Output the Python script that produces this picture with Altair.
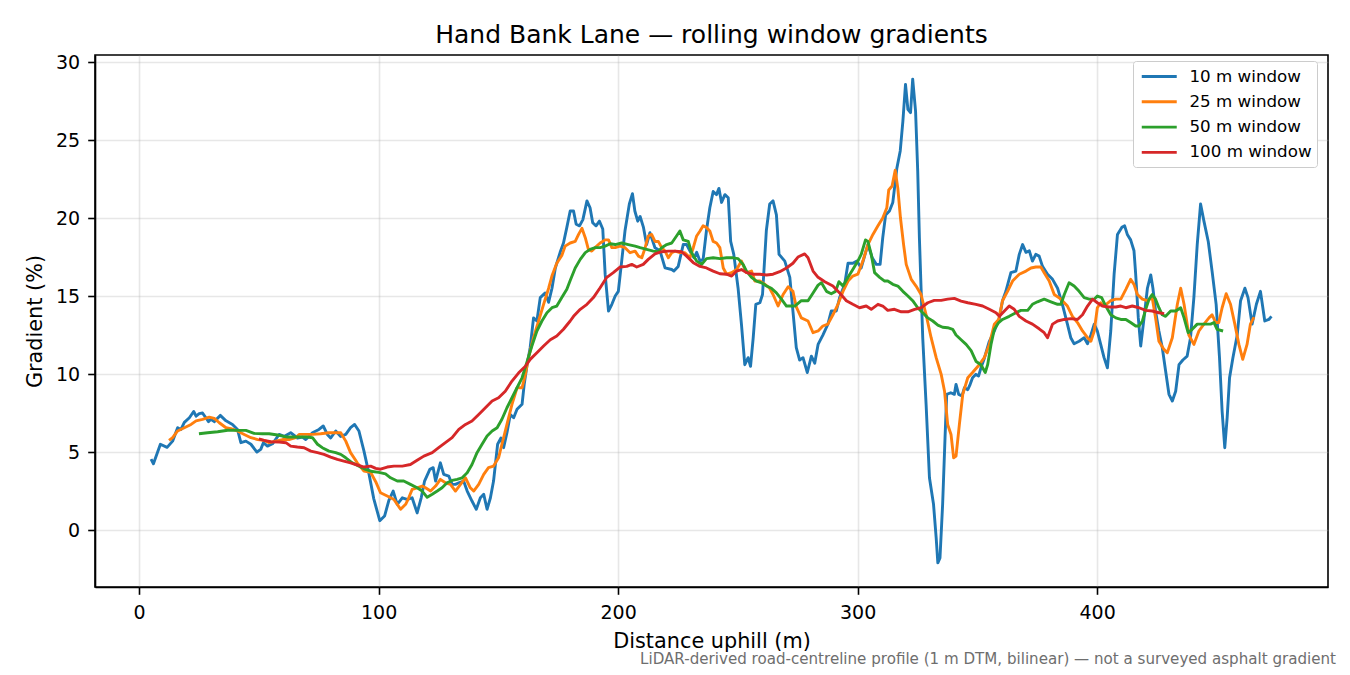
import altair as alt
import pandas as pd

SERIES = ["10 m window", "25 m window", "50 m window", "100 m window"]
COLORS = ["#1f77b4", "#ff7f0e", "#2ca02c", "#d62728"]

W10_X = [5, 6, 8.9, 11.7, 14, 16.1, 17.5, 18.9, 21, 22.8, 23.8, 25.1, 26.5, 27.9, 29, 30, 31.4, 33.9, 36.3, 39, 41.1, 42.5, 44.6, 46.7, 49.2, 50.8, 51.9, 53.6, 55.7, 58.5, 60.5, 63.3, 66.1, 68.2, 69.6, 72.4, 75.1, 76.9, 78.6, 80, 82.1, 84.2, 86.3, 88.3, 90, 91.8, 93.9, 96, 98, 100.5, 102.5, 104.3, 106.1, 107.8, 109.9, 111.9, 114, 116.1, 117.8, 119.2, 121.4, 122.8, 123.8, 125.8, 127.2, 129.3, 130.7, 132.1, 133.5, 135.5, 137, 139, 140.8, 142.5, 143.9, 145.3, 146.7, 148, 149.7, 151.1, 152.2, 153.6, 155, 156.4, 157.8, 159.9, 160.8, 162, 163.3, 164.7, 166.1, 167.5, 169.6, 171, 172.4, 173.8, 175.8, 177.2, 178.6, 180, 181.4, 182.5, 183.9, 185.3, 187, 188.3, 189.4, 190.8, 192.2, 193.6, 194.6, 196, 197.4, 198.8, 200.1, 201.5, 202.9, 204.7, 206, 207, 208.2, 209.2, 210.6, 211.9, 213.3, 215.4, 217.5, 219.6, 222.4, 223.3, 225.1, 227.2, 228.6, 230.3, 231.7, 232.8, 234.2, 235.5, 236.9, 238.3, 239.7, 241.1, 242.1, 243.2, 244.6, 246, 247, 248.3, 250.1, 251.5, 252.9, 254.3, 255.3, 256.4, 257.5, 259.2, 260.3, 261.9, 263.3, 264.7, 266.1, 267.2, 269.6, 271.7, 273, 274.4, 275.8, 277.2, 279, 280.7, 282.1, 283.5, 285.5, 287.6, 289, 291.1, 292.5, 294.6, 296, 298, 299.7, 301.5, 302.9, 304.3, 306.1, 307.8, 309.4, 310.5, 311.7, 313.3, 314.7, 316.4, 317.8, 318.9, 320, 321, 322.1, 323, 324.2, 325.1, 325.8, 326.5, 327.2, 328.6, 330, 331.7, 332.8, 333.5, 334.4, 335.5, 336.5, 337.2, 338.9, 340.4, 341.1, 342.2, 343.6, 344.6, 346, 347, 348, 349.4, 350.5, 351.5, 352.9, 355, 357.1, 359.2, 360.5, 361.9, 364, 366.1, 367.5, 368.9, 370.3, 371.7, 373, 374.4, 375.8, 377.2, 379.3, 381.4, 383.5, 385.5, 387.6, 389, 390.4, 392.5, 394.6, 396, 397.4, 398.8, 400.1, 401.5, 402.9, 404.3, 405.7, 407.1, 408.5, 410.3, 411.5, 412.6, 414, 415.4, 416.1, 417.2, 418.2, 419.6, 421, 422.4, 423.3, 424.4, 425.8, 427.2, 428.6, 430, 431.4, 432.8, 434.2, 435.8, 437.6, 439, 440.4, 441.8, 443.2, 444.6, 446.4, 448, 449.7, 451.1, 452.2, 453.3, 454.3, 455.3, 456.7, 458.5, 459.9, 461.7, 463, 464.7, 466.5, 468.2, 470, 471.7, 472.8]
W10_Y = [4.55, 4.25, 5.5, 5.3, 5.7, 6.56, 6.45, 6.9, 7.2, 7.6, 7.3, 7.46, 7.5, 7.2, 6.95, 7.1, 6.95, 7.35, 7.0, 6.77, 6.45, 5.6, 5.7, 5.5, 5.0, 5.17, 5.6, 5.38, 5.53, 6.13, 6.0, 6.24, 5.9, 5.96, 5.8, 6.24, 6.45, 6.67, 6.13, 5.9, 6.35, 6.0, 6.13, 6.56, 6.77, 6.35, 5.06, 3.6, 2.0, 0.6, 0.9, 1.9, 2.5, 1.65, 2.07, 1.96, 2.07, 1.1, 2.07, 3.14, 3.89, 4.0, 3.14, 4.31, 3.57, 3.46, 2.93, 2.93, 3.03, 3.14, 2.5, 1.86, 1.33, 2.07, 2.29, 1.33, 2.07, 3.14, 5.5, 5.9, 5.28, 6.24, 7.4, 7.2, 7.74, 8.06, 9.34, 10.6, 11.7, 13.6, 13.4, 14.9, 15.2, 14.6, 15.5, 16.8, 17.8, 18.4, 19.4, 20.45, 20.45, 19.6, 19.5, 19.9, 21.1, 20.66, 19.7, 19.5, 19.8, 19.3, 16.4, 14.04, 14.47, 15.0, 15.3, 17.24, 19.2, 20.9, 21.56, 20.45, 19.8, 20.1, 19.4, 18.3, 19.06, 18.1, 17.9, 16.8, 16.7, 16.6, 16.9, 18.3, 18.3, 17.8, 17.45, 17.8, 17.24, 17.35, 19.2, 20.66, 21.7, 21.5, 21.9, 21.0, 21.5, 21.3, 18.5, 17.67, 15.5, 13.2, 10.6, 11.05, 10.5, 12.3, 14.47, 14.57, 15.1, 19.2, 20.9, 21.1, 20.2, 17.67, 17.24, 16.2, 14.04, 11.7, 10.9, 11.05, 10.1, 11.15, 10.7, 11.9, 12.5, 13.2, 14.04, 14.04, 14.9, 15.75, 17.1, 17.1, 17.24, 16.8, 17.56, 18.3, 17.45, 17.03, 17.03, 18.74, 20.2, 20.45, 21.0, 23.2, 24.3, 26.2, 28.57, 26.97, 26.75, 28.9, 26.86, 23.0, 18.74, 15.5, 12.3, 8.06, 3.35, 1.65, -0.49, -2.1, -1.78, 1.65, 5.9, 8.7, 8.8, 8.7, 9.34, 8.7, 8.6, 9.12, 9.0, 9.34, 9.76, 9.98, 9.87, 10.4, 11.0, 12.1, 12.76, 13.6, 14.7, 15.3, 16.5, 16.6, 17.67, 18.3, 17.8, 17.9, 17.24, 17.67, 17.56, 16.9, 16.4, 16.07, 15.5, 14.47, 13.2, 12.33, 11.94, 12.1, 12.33, 11.94, 12.5, 13.2, 12.76, 11.9, 11.05, 10.4, 12.76, 16.4, 18.95, 19.4, 19.5, 18.95, 18.6, 17.9, 16.4, 13.6, 11.8, 13.6, 15.5, 16.35, 15.5, 14.04, 12.76, 11.7, 10.2, 8.7, 8.27, 8.9, 10.6, 10.9, 11.15, 12.33, 14.9, 18.3, 20.9, 19.8, 18.5, 16.6, 14.47, 11.05, 7.6, 5.28, 7.2, 9.76, 11.05, 12.5, 14.7, 15.5, 14.9, 13.2, 14.47, 15.3, 13.4, 13.5, 13.7]

W25_X = [12.5, 14, 16.1, 18.9, 21.7, 23.8, 26.5, 29.3, 31.4, 33.5, 36.3, 38.3, 41.1, 43.9, 46.7, 49.5, 52.2, 54.3, 57.1, 59.9, 62.6, 65.4, 66.8, 69.6, 72.4, 75.8, 79.3, 82.1, 84.2, 86.3, 88.3, 91.1, 93.9, 96.7, 98.8, 100.8, 103.6, 106.4, 109.2, 111.3, 112.6, 114, 116.1, 118.2, 119.6, 121.7, 123.8, 125.8, 127.9, 130, 132.1, 134.2, 136.3, 138.3, 139.7, 141.8, 143.9, 145.9, 148, 150.1, 151.5, 153.6, 155.7, 157.8, 159.9, 161.3, 162.6, 164.7, 166.8, 168.9, 171, 172.4, 174.4, 176.5, 177.9, 180, 182.1, 183.5, 184.9, 186.3, 187.6, 189, 190.4, 192.5, 194.6, 196, 197.4, 198.8, 200.8, 202.9, 205, 207.1, 208.5, 209.9, 211.3, 212.6, 214, 215.4, 216.8, 218.2, 219.6, 221, 222.4, 223.8, 225.8, 227.9, 230, 231.4, 232.8, 234.2, 235.5, 236.9, 238.3, 239.7, 241.1, 242.5, 243.9, 245.3, 247.4, 249.5, 251.5, 253.6, 255.7, 257.1, 259.2, 261.3, 263.3, 264.7, 266.8, 268.9, 271, 273, 274.4, 276.5, 279.3, 281.4, 283.5, 285.5, 287.6, 289.7, 291.8, 293.9, 296, 298, 300.1, 302.2, 304.3, 306.4, 308.5, 310.5, 312.2, 313, 314.4, 315.7, 316.8, 317.9, 319.2, 320.3, 322.4, 324.4, 326.5, 328.6, 330.7, 332.8, 334.9, 336.3, 337.6, 339, 340.1, 341.1, 342.5, 343.9, 346, 348, 350.8, 352.9, 355, 357.1, 358.9, 360.5, 362.6, 364.7, 367.5, 370.3, 372.4, 374.4, 376.5, 377.9, 380, 382.1, 384.9, 387.6, 389.7, 391.8, 393.9, 396, 397.4, 398.8, 400.1, 401.5, 402.9, 405.7, 407.8, 409.9, 412, 414, 415.4, 416.8, 418.9, 421, 423, 424.4, 425.8, 427.9, 429.3, 431.4, 433.5, 434.9, 436.3, 438.3, 440.4, 442.5, 444.6, 446.7, 448, 449.5, 450.8, 452.2, 453.9, 455.7, 457.5, 459.2, 460.8, 462.6, 464, 465.5]
W25_Y = [5.75, 5.92, 6.35, 6.56, 6.77, 7.0, 7.1, 7.24, 7.16, 6.88, 6.56, 6.5, 6.35, 6.13, 5.92, 5.8, 5.75, 5.6, 5.7, 5.8, 5.8, 5.92, 6.13, 6.13, 6.13, 6.17, 6.24, 6.24, 6.24, 5.7, 4.96, 4.31, 3.78, 3.7, 3.1, 2.39, 2.18, 1.96, 1.33, 1.65, 2.07, 2.6, 2.71, 2.82, 2.71, 2.5, 2.82, 3.25, 3.03, 2.93, 2.5, 2.93, 3.35, 2.71, 2.5, 2.93, 3.57, 4.0, 4.1, 4.63, 5.5, 6.77, 8.06, 9.12, 9.12, 9.98, 11.05, 12.33, 13.4, 14.47, 15.5, 16.3, 17.1, 17.6, 18.2, 18.4, 18.5, 18.95, 19.34, 18.74, 17.99, 17.88, 18.1, 18.4, 18.6, 18.6, 18.1, 18.1, 18.2, 18.1, 17.78, 17.88, 17.56, 17.45, 18.1, 18.85, 18.95, 18.5, 18.5, 18.1, 17.88, 17.45, 17.78, 17.88, 17.78, 17.78, 17.45, 18.1, 18.85, 19.17, 19.5, 19.4, 19.17, 18.5, 18.4, 18.1, 16.8, 16.4, 16.5, 16.7, 17.24, 16.5, 16.6, 15.96, 15.96, 15.75, 15.5, 15.1, 14.36, 15.1, 15.6, 15.3, 14.3, 13.6, 13.4, 12.65, 12.76, 13.08, 13.2, 13.8, 14.47, 15.3, 15.96, 16.28, 16.4, 17.24, 18.3, 18.95, 19.5, 20.0, 20.66, 21.8, 22.05, 23.06, 21.9, 20.0, 18.3, 17.03, 16.07, 15.64, 15.1, 13.8, 12.33, 11.05, 9.98, 8.9, 6.77, 6.13, 4.63, 4.74, 6.77, 8.7, 9.76, 10.1, 10.6, 11.05, 11.9, 13.2, 13.5, 14.7, 15.3, 15.96, 16.4, 16.6, 16.8, 16.86, 16.86, 16.5, 15.96, 15.1, 14.8, 14.36, 13.7, 13.3, 12.76, 12.33, 12.1, 12.76, 14.25, 14.57, 14.36, 14.7, 14.8, 14.8, 15.43, 16.07, 15.75, 15.1, 14.8, 14.7, 14.9, 13.6, 12.1, 11.58, 11.37, 12.33, 14.47, 15.5, 14.47, 12.5, 11.9, 12.76, 13.2, 13.6, 13.8, 13.3, 13.3, 14.25, 15.15, 14.47, 13.2, 11.9, 10.94, 11.9, 13.2, 13.65]

W50_X = [25, 28.6, 32.8, 37, 41.1, 44.6, 48, 51.5, 54.3, 57.8, 62, 66.1, 70.3, 72.4, 74.5, 76.5, 79.3, 82.1, 84.2, 86.3, 89, 91.8, 94.6, 97.4, 100.1, 102.9, 105, 107.8, 110.5, 113.3, 116.1, 118.2, 120.3, 122.4, 124.5, 126.5, 128.6, 130.7, 132.8, 134.9, 137, 139, 141.1, 143.2, 145.3, 147.4, 149.5, 151.5, 153.6, 155.7, 157.8, 159.9, 162, 164, 166.1, 168.2, 170.3, 172.4, 174.4, 176.5, 178.6, 180, 182.1, 184.2, 186.3, 188.3, 190.4, 192.5, 194.6, 196.7, 198.8, 201.5, 204.3, 207.1, 209.2, 211.9, 214.7, 216.8, 218.2, 220.3, 222.4, 224.4, 225.8, 227.2, 229.3, 230.7, 232.8, 234.9, 236.9, 239.7, 242.5, 245.3, 248, 250.1, 252.2, 253.6, 255.7, 257.8, 259.9, 262, 264, 266.1, 268.2, 270.3, 273.8, 276.5, 279.3, 281.4, 283.5, 284.9, 287, 289, 290.8, 292.2, 293.9, 296, 298, 300.1, 301.5, 303.3, 304.3, 305.7, 307.1, 309.2, 311.3, 312.6, 314.7, 316.8, 318.9, 321, 323, 325.1, 327.2, 329.3, 331.4, 333.5, 335.5, 337.6, 339.7, 341.1, 343.2, 345.3, 347.4, 349.5, 351.5, 353.3, 354.3, 355.7, 357.1, 358.9, 360.5, 363.3, 366.1, 368.2, 371, 373, 375.1, 377.9, 380.7, 383.5, 384.9, 386.3, 388.3, 390.4, 392.5, 394.6, 396.7, 398.8, 400.1, 401.9, 403.6, 405.7, 407.8, 409.9, 412, 414, 416.1, 417.5, 418.9, 420.3, 421.7, 423, 424.4, 425.8, 427.2, 428.6, 430.7, 432.8, 434.9, 436.3, 438, 439.7, 441.8, 444.6, 447.4, 448.8, 450.1, 452.6]
W50_Y = [6.17, 6.24, 6.3, 6.4, 6.39, 6.39, 6.2, 6.17, 6.17, 6.09, 5.96, 5.96, 5.96, 5.92, 5.5, 5.28, 5.06, 4.96, 4.85, 4.63, 4.31, 4.1, 3.89, 3.75, 3.7, 3.6, 3.35, 3.14, 3.14, 2.93, 2.71, 2.5, 2.1, 2.29, 2.5, 2.71, 3.03, 3.18, 3.25, 3.35, 3.67, 4.2, 4.96, 5.5, 6.03, 6.35, 6.56, 7.1, 7.84, 8.48, 9.12, 9.76, 10.8, 11.8, 12.76, 13.4, 13.93, 14.25, 14.36, 14.9, 15.43, 16.0, 16.8, 17.35, 17.78, 17.99, 18.1, 18.1, 18.2, 18.35, 18.3, 18.4, 18.3, 18.2, 18.1, 17.99, 17.88, 17.84, 18.1, 18.3, 18.4, 18.85, 19.17, 18.6, 18.5, 17.78, 17.24, 17.03, 17.4, 17.45, 17.4, 17.45, 17.45, 17.4, 17.03, 16.6, 16.2, 15.96, 15.85, 15.64, 15.5, 15.2, 14.8, 14.36, 14.36, 14.7, 14.7, 15.2, 15.7, 15.85, 15.3, 15.15, 15.3, 15.92, 15.64, 16.2, 16.7, 17.24, 17.67, 18.6, 18.5, 17.67, 16.5, 16.2, 15.96, 15.96, 15.75, 15.64, 15.3, 15.0, 14.7, 14.25, 13.93, 13.6, 13.4, 13.14, 13.0, 12.97, 12.87, 12.5, 12.2, 11.9, 11.5, 10.8, 10.6, 10.1, 10.6, 11.9, 12.87, 13.3, 13.5, 13.7, 13.93, 14.08, 14.08, 14.47, 14.63, 14.8, 14.63, 14.47, 14.47, 15.1, 15.85, 15.64, 15.3, 14.9, 14.8, 14.8, 15.0, 14.9, 14.36, 13.8, 13.6, 13.5, 13.5, 13.3, 13.08, 13.08, 13.4, 14.15, 14.8, 15.1, 14.8, 14.25, 13.8, 13.7, 14.04, 14.04, 14.25, 13.6, 12.65, 12.87, 13.2, 13.2, 13.2, 13.3, 12.87, 12.76]

W100_X = [50, 52.2, 55, 58.5, 61.3, 63.3, 66.1, 68.9, 71.7, 74.5, 77.2, 80, 82.8, 85.5, 88.3, 91.1, 93.9, 96.7, 98.8, 100.8, 103.6, 106.4, 109.9, 113.3, 116.1, 118.9, 122.4, 125.1, 127.9, 130.7, 133.5, 136.3, 139, 141.8, 144.6, 147.4, 150.1, 152.9, 155.7, 158.5, 161.3, 163.3, 166.1, 168.9, 171.7, 174.4, 177.2, 180, 181.4, 184.2, 187, 189.7, 192.5, 195.3, 198, 200.8, 203.6, 205.7, 207.8, 210.5, 212.6, 215.4, 218.2, 221, 223.8, 226.5, 228.6, 231.4, 234.2, 236.9, 239.7, 242.5, 245.3, 247.4, 249.5, 251.5, 253.6, 256.4, 259.2, 262, 264.7, 267.5, 270.3, 273, 275.1, 277.9, 279.3, 281.4, 283.5, 286.3, 289.7, 292.5, 295.3, 298, 300.8, 303.6, 305.7, 308.5, 310.5, 312.6, 315.4, 318.2, 321, 323.8, 326.5, 329.3, 332, 334.9, 337.6, 340.4, 343.2, 346, 349.4, 352.2, 355, 357.8, 359.2, 361.3, 363.3, 365.4, 367.5, 370.3, 373, 375.8, 377.9, 379.3, 381.4, 383.5, 386.3, 389, 391.8, 393.9, 396, 398.1, 400.1, 402.2, 405, 407.8, 409.9, 412, 414.7, 417.5, 420.3, 423, 425.8, 428]
W100_Y = [5.85, 5.75, 5.66, 5.64, 5.6, 5.38, 5.32, 5.28, 5.06, 4.96, 4.85, 4.68, 4.53, 4.42, 4.31, 4.17, 4.04, 4.1, 3.95, 3.9, 4.04, 4.1, 4.1, 4.2, 4.47, 4.74, 4.96, 5.28, 5.6, 5.92, 6.45, 6.77, 6.99, 7.41, 7.84, 8.27, 8.48, 8.9, 9.55, 10.08, 10.5, 10.94, 11.37, 11.8, 12.2, 12.44, 12.87, 13.4, 13.7, 14.15, 14.47, 14.9, 15.53, 16.2, 16.5, 16.86, 16.9, 17.03, 16.86, 17.03, 17.35, 17.7, 17.84, 17.88, 17.88, 17.84, 17.56, 17.14, 16.9, 16.8, 16.6, 16.43, 16.4, 16.28, 16.6, 16.7, 16.5, 16.4, 16.4, 16.35, 16.4, 16.56, 16.8, 17.1, 17.5, 17.7, 17.45, 16.6, 16.2, 15.92, 15.64, 15.2, 14.7, 14.47, 14.25, 14.36, 14.15, 14.47, 14.36, 14.08, 14.15, 13.99, 13.99, 14.15, 14.25, 14.57, 14.72, 14.72, 14.8, 14.85, 14.68, 14.57, 14.47, 14.36, 14.15, 13.93, 13.7, 14.04, 14.36, 14.15, 13.7, 13.4, 13.2, 12.9, 12.65, 12.33, 13.2, 13.4, 13.5, 13.55, 13.5, 13.8, 14.36, 14.8, 14.57, 14.36, 14.3, 14.3, 14.36, 14.25, 14.36, 14.25, 14.08, 14.04, 13.93, 13.87]

X_TICKS = [0, 100, 200, 300, 400]
Y_TICKS = [0, 5, 10, 15, 20, 25, 30]
FOOTNOTE = "LiDAR-derived road-centreline profile (1 m DTM, bilinear) \u2014 not a surveyed asphalt gradient"

frames = []
for name, xs, ys in zip(SERIES, [W10_X, W25_X, W50_X, W100_X], [W10_Y, W25_Y, W50_Y, W100_Y]):
    frames.append(pd.DataFrame({"distance": xs, "gradient": ys, "series": name}))
df = pd.concat(frames, ignore_index=True)

FONT = "DejaVu Sans"
PLOT_W, PLOT_H = 1233, 532

x_enc = alt.X(
    "distance:Q",
    scale=alt.Scale(domain=[-18.4, 496.4], nice=False, zero=False),
    axis=alt.Axis(values=X_TICKS, title="Distance uphill (m)", labelPadding=9,
                  titleY=60, titleBaseline="alphabetic"),
)
y_enc = alt.Y(
    "gradient:Q",
    scale=alt.Scale(domain=[-3.65, 30.45], nice=False, zero=False),
    axis=alt.Axis(values=Y_TICKS, title="Gradient (%)", labelPadding=8,
                  titleX=-54, titleY=PLOT_H / 2, titleBaseline="alphabetic",
                  titleAngle=270, titleAlign="center"),
)
color_enc = alt.Color(
    "series:N",
    scale=alt.Scale(domain=SERIES, range=COLORS),
    legend=alt.Legend(
        title=None, orient="none", legendX=1038, legendY=6,
        symbolType="M-2,0L2,0", symbolSize=306, symbolStrokeWidth=2.9,
        symbolOffset=10.75,
        labelFont=FONT, labelFontSize=16.7, labelColor="#000000", labelOffset=19.75,
        rowPadding=5.3, padding=5, fillColor="#ffffff", strokeColor="#cccccc",
        cornerRadius=3,
    ),
)

base = alt.Chart(df)
layers = []
for name in SERIES:
    layers.append(
        base.transform_filter(alt.datum.series == name)
        .mark_line(strokeWidth=2.9, strokeJoin="round")
        .encode(x=x_enc, y=y_enc, color=color_enc)
    )

note = alt.Chart(pd.DataFrame({"t": [FOOTNOTE]})).mark_text(
    align="right", baseline="alphabetic", font=FONT, fontSize=15.1, color="#6e6e6e"
).encode(text="t:N", x=alt.value(1241), y=alt.value(609))

chart = (
    alt.layer(*layers, note)
    .properties(
        width=PLOT_W, height=PLOT_H,
        title=alt.TitleParams("Hand Bank Lane \u2014 rolling window gradients",
                              font=FONT, fontSize=25, fontWeight="normal",
                              color="#000000", anchor="middle", frame="group",
                              baseline="alphabetic", offset=9, dy=24),
        padding={"left": 87, "top": 47, "right": 14, "bottom": 80},
        autosize=alt.AutoSizeParams(type="none"),
    )
    .configure_view(stroke="#000000", strokeWidth=1.6)
    .configure_axis(
        labelFont=FONT, labelFontSize=19, labelColor="#000000",
        titleFont=FONT, titleFontSize=20.8, titleFontWeight="normal", titleColor="#000000",
        tickSize=7.3, tickWidth=1.6, tickColor="#000000",
        domainColor="#000000", domainWidth=1.6,
        grid=True, gridColor="#b0b0b0", gridOpacity=0.3, gridWidth=1.6,
    )
)

chart.save("out.html", embed_options={"renderer": "svg", "actions": False})
